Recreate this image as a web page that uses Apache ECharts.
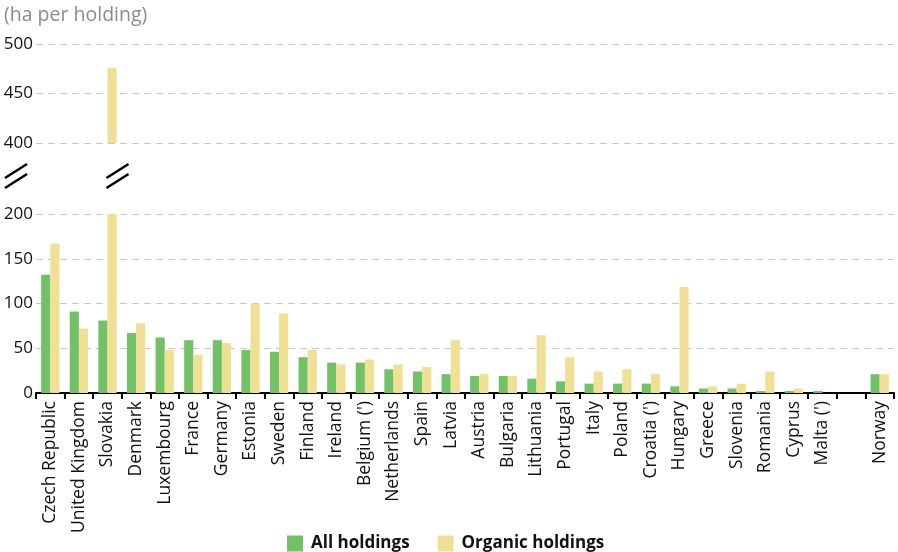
<!DOCTYPE html>
<html>
<head>
<meta charset="utf-8">
<script src="https://cdn.jsdelivr.net/npm/echarts@6/dist/echarts.min.js"></script>
<style>
  html, body { margin: 0; padding: 0; background: #fff; }
  #chart { width: 898px; height: 552px; }
</style>
</head>
<body>
<div id="chart"></div>
<script>
// categories, '' is the spacer before Norway
let countries = ['Czech Republic', 'United Kingdom', 'Slovakia', 'Denmark', 'Luxembourg', 'France', 'Germany',
  'Estonia', 'Sweden', 'Finland', 'Ireland', "Belgium (')", 'Netherlands', 'Spain', 'Latvia', 'Austria',
  'Bulgaria', 'Lithuania', 'Portugal', 'Italy', 'Poland', "Croatia (')", 'Hungary', 'Greece', 'Slovenia',
  'Romania', 'Cyprus', "Malta (')", '', 'Norway'];
let allHoldings = [132, 91, 81, 67, 62, 59, 59, 48, 46, 40, 34, 34, 26.5, 24, 21, 19, 19, 16, 13, 10.5, 10.5,
  10.5, 7.5, 5, 5, 2.2, 2.2, 2.2, null, 21];
let organicHoldings = [167, 72, 476, 78, 48, 42.5, 56, 99.5, 89, 48, 32, 37.5, 32, 29, 59, 21.5, 19, 64.5, 40,
  24, 26.5, 21.5, 118.5, 7.5, 10.4, 24, 5, null, null, 21];
let lowerTicks = [0, 200, 50];
let upperTicks = [400, 500, 50];

let font = 'Open Sans';
let green = '#73c167';
let yellow = '#f0e096';

let myChart = echarts.init(document.getElementById('chart'));

function barSeries(name, data, color, idx) {
  return {
    name: name,
    type: 'bar',
    xAxisIndex: idx,
    yAxisIndex: idx,
    data: data,
    clip: true,
    barGap: '0%',
    barCategoryGap: '36%',
    itemStyle: {color: color},
    emphasis: {disabled: true}
  };
}

let splitLine = {show: true, lineStyle: {color: '#c8c8c8', type: [7, 5], width: 1}};
let yLabel = {color: '#111', fontFamily: font, fontSize: 17, margin: 3};

let option = {
  animation: false,
  grid: [
    {left: 36, right: 4, top: 214, bottom: 159},
    {left: 36, right: 4, top: 44, bottom: 409}
  ],
  legend: {
    top: 530,
    left: 282,
    icon: 'rect',
    itemWidth: 16,
    itemHeight: 16,
    itemGap: 28,
    textStyle: {fontFamily: font, fontSize: 17, fontWeight: 'bold', color: '#111', padding: [0, 0, 0, 3]},
    data: ['All holdings', 'Organic holdings']
  },
  xAxis: [
    {
      type: 'category',
      gridIndex: 0,
      data: countries,
      axisLine: {lineStyle: {color: '#000', width: 2}},
      axisTick: {show: true, interval: 0, length: 6, lineStyle: {color: '#000', width: 2}},
      axisLabel: {interval: 0, rotate: 90, fontFamily: font, fontSize: 17.5, color: '#111', margin: 8}
    },
    {
      type: 'category',
      gridIndex: 1,
      data: countries,
      show: false
    }
  ],
  yAxis: [
    {
      type: 'value',
      gridIndex: 0,
      min: lowerTicks[0],
      max: lowerTicks[1],
      interval: lowerTicks[2],
      axisLine: {show: false},
      axisTick: {show: false},
      axisLabel: yLabel,
      splitLine: splitLine
    },
    {
      type: 'value',
      gridIndex: 1,
      min: upperTicks[0],
      max: upperTicks[1],
      interval: upperTicks[2],
      axisLine: {show: false},
      axisTick: {show: false},
      axisLabel: yLabel,
      splitLine: splitLine
    }
  ],
  series: [
    barSeries('All holdings', allHoldings, green, 0),
    barSeries('Organic holdings', organicHoldings, yellow, 0),
    barSeries('All holdings', allHoldings, green, 1),
    barSeries('Organic holdings', organicHoldings, yellow, 1)
  ]
};
myChart.setOption(option);

// axis title and the break marks (left edge and on the Slovakia bar)
let slovakX = myChart.convertToPixel({xAxisIndex: 0}, 'Slovakia');
let breakY = 176;
function breakMarks(cx) {
  return [-5, 5].map(function (dy) {
    return {
      type: 'line',
      shape: {x1: cx - 11, y1: breakY + dy + 7, x2: cx + 11, y2: breakY + dy - 7},
      style: {stroke: '#000', lineWidth: 2.5}
    };
  });
}
myChart.setOption({
  graphic: [
    {
      type: 'text',
      left: 4,
      top: 5,
      style: {text: '(ha per holding)', fill: '#8c8c8c', fontFamily: font, fontSize: 19.5}
    }
  ].concat(breakMarks(16), breakMarks(slovakX + 10))
});
</script>
</body>
</html>
